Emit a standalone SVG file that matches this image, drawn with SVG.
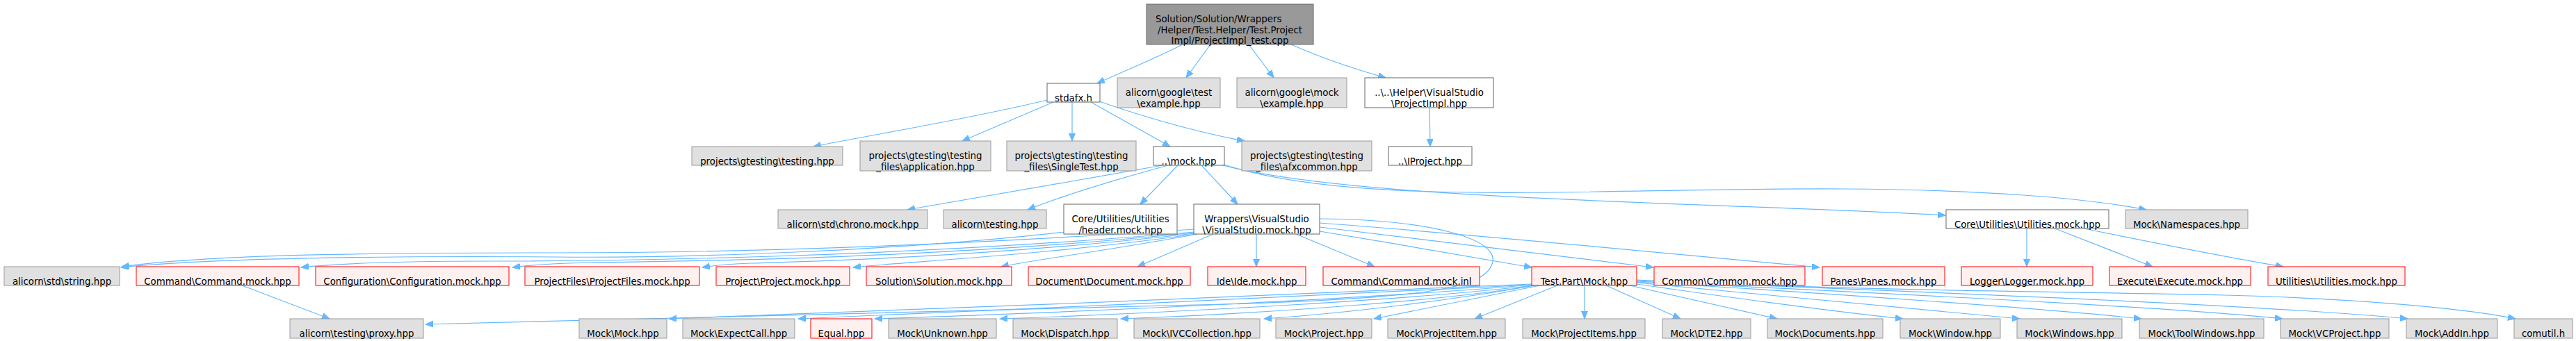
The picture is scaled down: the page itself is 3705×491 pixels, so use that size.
<svg xmlns="http://www.w3.org/2000/svg" width="3705" height="491" viewBox="0 0 3705 491">
<style>
.w{fill:#ffffff;stroke:#666666;stroke-width:1}
.g{fill:#e0e0e0;stroke:#999999;stroke-width:1}
.r{fill:#fff0f0;stroke:#ff0000;stroke-width:1}
.root{fill:#999999;stroke:#666666;stroke-width:1}
text{font-family:"DejaVu Sans","Liberation Sans",sans-serif;font-size:13.33px;fill:#000000;text-anchor:middle}
text.s{text-anchor:start}
.e{fill:none;stroke:#63b8ff;stroke-width:1.2;marker-end:url(#a)}
</style>
<defs>
<marker id="a" markerUnits="userSpaceOnUse" markerWidth="12" markerHeight="10" refX="11" refY="4.5" orient="auto">
<path d="M0,0 L11,4.5 L0,9 z" fill="#63b8ff" stroke="#63b8ff" stroke-width="1"/>
</marker>
</defs>
<rect width="3705" height="491" fill="#ffffff"/>
<g id="connectors">
<path class="e" d="M1701,64 C1660,85 1615,103 1578,120"/>
<path class="e" d="M1741,64 L1706,112"/>
<path class="e" d="M1796,64 L1832,112"/>
<path class="e" d="M1857,64 C1900,83 1950,100 1993,112"/>
<path class="e" d="M2056,155 L2057,211"/>
<path class="e" d="M1506,144 C1400,170 1250,195 1170,211"/>
<path class="e" d="M1515,147 L1384,203"/>
<path class="e" d="M1542,147 L1542,203"/>
<path class="e" d="M1569,147 L1683,211"/>
<path class="e" d="M1578,145 C1650,170 1720,190 1790,203"/>
<path class="e" d="M1672,238 C1550,260 1400,285 1305,302"/>
<path class="e" d="M1680,238 C1600,260 1520,285 1478,302"/>
<path class="e" d="M1694,238 L1640,294"/>
<path class="e" d="M1728,238 L1780,294"/>
<path class="e" d="M1755,237 C1950,290 2500,292 2798,310"/>
<path class="e" d="M1757,236 C1950,300 2300,270 2650,272 C2850,273 3000,285 3087,302"/>
<path class="e" d="M1531,334 C1300,360 1000,372 800,370 C550,368 300,372 174,385"/>
<path class="e" d="M1718,330 C1300,358 1000,364 800,364 C500,364 300,367 175,384"/>
<path class="e" d="M1718,334 C1300,370 900,376 700,376 C560,376 480,380 433,385"/>
<path class="e" d="M1718,335 C1350,372 1000,376 850,378 C800,379 770,381 737,385"/>
<path class="e" d="M1719,336 C1400,372 1150,377 1080,379 C1050,380 1030,382 1010,385"/>
<path class="e" d="M1720,337 C1500,368 1300,377 1227,385"/>
<path class="e" d="M1722,337 C1600,360 1480,375 1440,384"/>
<path class="e" d="M1745,337 L1636,384"/>
<path class="e" d="M1807,337 L1807,384"/>
<path class="e" d="M1864,337 L1977,384"/>
<path class="e" d="M1898,333 C2000,350 2120,370 2203,385"/>
<path class="e" d="M1898,327 C2050,345 2250,370 2378,385"/>
<path class="e" d="M1898,321 C2150,340 2450,370 2617,385"/>
<path class="e" d="M1898,315 C2060,316 2160,345 2146,380 C2135,415 2050,428 1800,437 C1300,452 900,458 612,467"/>
<path class="e" d="M2915,328 L2915,384"/>
<path class="e" d="M2953,328 L3096,384"/>
<path class="e" d="M2992,328 C3100,350 3200,370 3284,384"/>
<path class="e" d="M348,411 L474,459"/>
<path class="e" d="M2203,409 C1900,425 1300,445 962,459"/>
<path class="e" d="M2204,410 C1950,425 1450,445 1148,459"/>
<path class="e" d="M2204,410 C2000,428 1600,448 1258,459"/>
<path class="e" d="M2205,411 C2050,430 1700,450 1438,459"/>
<path class="e" d="M2206,411 C2100,430 1850,450 1612,459"/>
<path class="e" d="M2208,411 C2100,430 1950,450 1818,459"/>
<path class="e" d="M2215,411 L1976,459"/>
<path class="e" d="M2240,411 L2121,459"/>
<path class="e" d="M2279,411 L2279,459"/>
<path class="e" d="M2310,411 L2417,459"/>
<path class="e" d="M2344,411 L2556,459"/>
<path class="e" d="M2354,409 C2500,430 2650,450 2737,459"/>
<path class="e" d="M2354,407 C2550,425 2800,450 2905,459"/>
<path class="e" d="M2354,406 C2600,420 2950,445 3080,459"/>
<path class="e" d="M2354,405 C2650,420 3100,440 3283,459"/>
<path class="e" d="M2354,404 C2700,418 3250,438 3463,459"/>
<path class="e" d="M2354,403 C2700,420 3000,420 3200,425 C3400,430 3550,445 3618,459"/>
</g>
<g id="n0"><rect class="root" x="1649" y="6" width="240" height="58"/><text class="s" x="1662" y="32">Solution/Solution/Wrappers</text><text x="1769" y="48">/Helper/Test.Helper/Test.Project</text><text x="1769" y="63">Impl/ProjectImpl_test.cpp</text></g>
<g id="n1"><rect class="w" x="1506" y="120" width="76" height="27"/><text x="1544" y="146">stdafx.h</text></g>
<g id="n2"><rect class="g" x="1607" y="112" width="148" height="43"/><text x="1681" y="138">alicorn\google\test</text><text x="1681" y="154">\example.hpp</text></g>
<g id="n3"><rect class="g" x="1779" y="112" width="158" height="43"/><text x="1858" y="138">alicorn\google\mock</text><text x="1858" y="154">\example.hpp</text></g>
<g id="n4"><rect class="w" x="1963" y="112" width="185" height="43"/><text x="2055.5" y="138">..\..\Helper\VisualStudio</text><text x="2055.5" y="154">\ProjectImpl.hpp</text></g>
<g id="n5"><rect class="g" x="995" y="211" width="217" height="27"/><text x="1103.5" y="237">projects\gtesting\testing.hpp</text></g>
<g id="n6"><rect class="g" x="1237" y="203" width="188" height="43"/><text x="1331" y="229">projects\gtesting\testing</text><text x="1331" y="245">_files\application.hpp</text></g>
<g id="n7"><rect class="g" x="1448" y="203" width="186" height="43"/><text x="1541" y="229">projects\gtesting\testing</text><text x="1541" y="245">_files\SingleTest.hpp</text></g>
<g id="n8"><rect class="w" x="1659" y="211" width="102" height="27"/><text x="1710" y="237">..\mock.hpp</text></g>
<g id="n9"><rect class="g" x="1786" y="203" width="187" height="43"/><text x="1879.5" y="229">projects\gtesting\testing</text><text x="1879.5" y="245">_files\afxcommon.hpp</text></g>
<g id="n10"><rect class="w" x="1997" y="211" width="120" height="27"/><text x="2057" y="237">..\IProject.hpp</text></g>
<g id="n11"><rect class="g" x="1119" y="302" width="215" height="27"/><text x="1226.5" y="328">alicorn\std\chrono.mock.hpp</text></g>
<g id="n12"><rect class="g" x="1357" y="302" width="148" height="27"/><text x="1431" y="328">alicorn\testing.hpp</text></g>
<g id="n13"><rect class="w" x="1530" y="294" width="163" height="43"/><text x="1611.5" y="320">Core/Utilities/Utilities</text><text x="1611.5" y="336">/header.mock.hpp</text></g>
<g id="n14"><rect class="w" x="1717" y="294" width="181" height="43"/><text x="1807.5" y="320">Wrappers\VisualStudio</text><text x="1807.5" y="336">\VisualStudio.mock.hpp</text></g>
<g id="n15"><rect class="w" x="2799" y="302" width="234" height="27"/><text x="2916" y="328">Core\Utilities\Utilities.mock.hpp</text></g>
<g id="n16"><rect class="g" x="3057" y="302" width="176" height="27"/><text x="3145" y="328">Mock\Namespaces.hpp</text></g>
<g id="n17"><rect class="g" x="6" y="384" width="166" height="27"/><text x="89" y="410">alicorn\std\string.hpp</text></g>
<g id="n18"><rect class="r" x="196" y="384" width="234" height="27"/><text x="313" y="410">Command\Command.mock.hpp</text></g>
<g id="n19"><rect class="r" x="454" y="384" width="278" height="27"/><text x="593" y="410">Configuration\Configuration.mock.hpp</text></g>
<g id="n20"><rect class="r" x="755" y="384" width="251" height="27"/><text x="880.5" y="410">ProjectFiles\ProjectFiles.mock.hpp</text></g>
<g id="n21"><rect class="r" x="1030" y="384" width="192" height="27"/><text x="1126" y="410">Project\Project.mock.hpp</text></g>
<g id="n22"><rect class="r" x="1246" y="384" width="209" height="27"/><text x="1350.5" y="410">Solution\Solution.mock.hpp</text></g>
<g id="n23"><rect class="r" x="1479" y="384" width="233" height="27"/><text x="1595.5" y="410">Document\Document.mock.hpp</text></g>
<g id="n24"><rect class="r" x="1737" y="384" width="141" height="27"/><text x="1807.5" y="410">Ide\Ide.mock.hpp</text></g>
<g id="n25"><rect class="r" x="1903" y="384" width="225" height="27"/><text x="2015.5" y="410">Command\Command.mock.inl</text></g>
<g id="n26"><rect class="r" x="2203" y="384" width="151" height="27"/><text x="2278.5" y="410">Test.Part\Mock.hpp</text></g>
<g id="n27"><rect class="r" x="2379" y="384" width="217" height="27"/><text x="2487.5" y="410">Common\Common.mock.hpp</text></g>
<g id="n28"><rect class="r" x="2621" y="384" width="176" height="27"/><text x="2709" y="410">Panes\Panes.mock.hpp</text></g>
<g id="n29"><rect class="r" x="2821" y="384" width="189" height="27"/><text x="2915.5" y="410">Logger\Logger.mock.hpp</text></g>
<g id="n30"><rect class="r" x="3034" y="384" width="203" height="27"/><text x="3135.5" y="410">Execute\Execute.mock.hpp</text></g>
<g id="n31"><rect class="r" x="3262" y="384" width="197" height="27"/><text x="3360.5" y="410">Utilities\Utilities.mock.hpp</text></g>
<g id="n32"><rect class="g" x="417" y="459" width="192" height="28"/><text x="513" y="485">alicorn\testing\proxy.hpp</text></g>
<g id="n33"><rect class="g" x="833" y="459" width="126" height="28"/><text x="896" y="485">Mock\Mock.hpp</text></g>
<g id="n34"><rect class="g" x="982" y="459" width="161" height="28"/><text x="1062.5" y="485">Mock\ExpectCall.hpp</text></g>
<g id="n35"><rect class="r" x="1166" y="459" width="88" height="28"/><text x="1210" y="485">Equal.hpp</text></g>
<g id="n36"><rect class="g" x="1278" y="459" width="155" height="28"/><text x="1355.5" y="485">Mock\Unknown.hpp</text></g>
<g id="n37"><rect class="g" x="1457" y="459" width="150" height="28"/><text x="1532" y="485">Mock\Dispatch.hpp</text></g>
<g id="n38"><rect class="g" x="1631" y="459" width="181" height="28"/><text x="1721.5" y="485">Mock\IVCCollection.hpp</text></g>
<g id="n39"><rect class="g" x="1835" y="459" width="138" height="28"/><text x="1904" y="485">Mock\Project.hpp</text></g>
<g id="n40"><rect class="g" x="1996" y="459" width="169" height="28"/><text x="2080.5" y="485">Mock\ProjectItem.hpp</text></g>
<g id="n41"><rect class="g" x="2190" y="459" width="176" height="28"/><text x="2278" y="485">Mock\ProjectItems.hpp</text></g>
<g id="n42"><rect class="g" x="2391" y="459" width="127" height="28"/><text x="2454.5" y="485">Mock\DTE2.hpp</text></g>
<g id="n43"><rect class="g" x="2542" y="459" width="166" height="28"/><text x="2625" y="485">Mock\Documents.hpp</text></g>
<g id="n44"><rect class="g" x="2733" y="459" width="144" height="28"/><text x="2805" y="485">Mock\Window.hpp</text></g>
<g id="n45"><rect class="g" x="2901" y="459" width="151" height="28"/><text x="2976.5" y="485">Mock\Windows.hpp</text></g>
<g id="n46"><rect class="g" x="3077" y="459" width="179" height="28"/><text x="3166.5" y="485">Mock\ToolWindows.hpp</text></g>
<g id="n47"><rect class="g" x="3280" y="459" width="156" height="28"/><text x="3358" y="485">Mock\VCProject.hpp</text></g>
<g id="n48"><rect class="g" x="3461" y="459" width="131" height="28"/><text x="3526.5" y="485">Mock\AddIn.hpp</text></g>
<g id="n49"><rect class="g" x="3616" y="459" width="84" height="28"/><text x="3658" y="485">comutil.h</text></g>
</svg>
